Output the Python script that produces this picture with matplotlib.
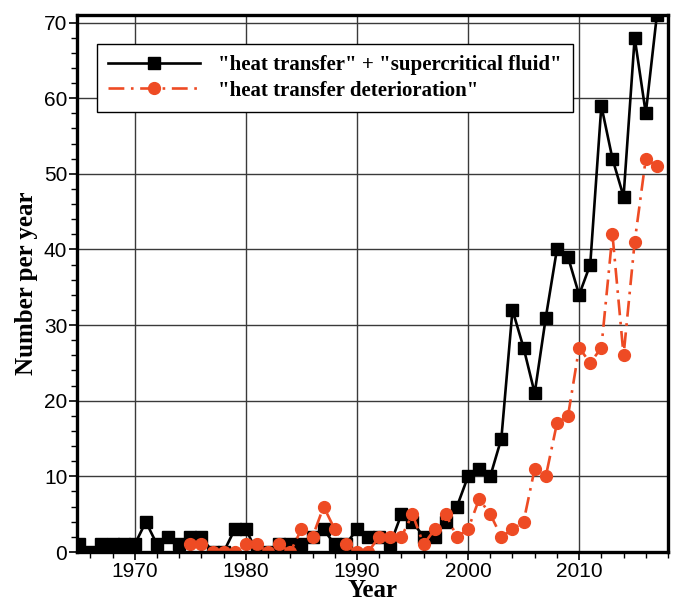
import numpy as np
import matplotlib
matplotlib.use("Agg")
import matplotlib.pyplot as plt
from matplotlib.ticker import MultipleLocator

# Publications per year
years_all = list(range(1965, 2018))
n_supercritical = [1, 0, 1, 1, 1, 1, 4, 1, 2, 1,
                   2, 2, 0, 0, 3, 3, 0, 0, 1, 1,
                   1, 2, 3, 1, 1, 3, 2, 2, 1, 5,
                   4, 2, 2, 4, 6, 10, 11, 10, 15, 32,
                   27, 21, 31, 40, 39, 34, 38, 59, 52, 47,
                   68, 58, 71]

years_htd = list(range(1975, 2018))
n_deterioration = [1, 1, 0, 0, 0, 1, 1, 0, 1, 0,
                   3, 2, 6, 3, 1, 0, 0, 2, 2, 2,
                   5, 1, 3, 5, 2, 3, 7, 5, 2, 3,
                   4, 11, 10, 17, 18, 27, 25, 27, 42, 26,
                   41, 52, 51]

label_sc = '"heat transfer" + "supercritical fluid"'
label_htd = '"heat transfer deterioration"'

red = '#EE4B24'

fig = plt.figure(figsize=(6.78, 6.02), dpi=100)
ax = fig.add_axes([77 / 678, 50 / 602, 591 / 678, 537 / 602])

ax.plot(years_all, n_supercritical, color='black', lw=1.9, marker='s',
        markersize=9, label=label_sc, zorder=3)
ax.plot(years_htd, n_deterioration, color=red, lw=1.9, ls=(0, (6, 2.5, 1, 2.5)),
        marker='o', markersize=8.5, label=label_htd, zorder=4)

ax.set_xlim(1964.8, 2018)
ax.set_ylim(0, 71)
ax.xaxis.set_major_locator(MultipleLocator(10))
ax.xaxis.set_minor_locator(MultipleLocator(2))
ax.yaxis.set_major_locator(MultipleLocator(10))
ax.yaxis.set_minor_locator(MultipleLocator(2))
ax.grid(True, which='major', color='#3a3a3a', lw=1.0, zorder=0)

ax.tick_params(which='both', direction='out', color='black', top=False, right=False)
ax.tick_params(which='major', length=6, width=1.2, labelsize=15, pad=1)
ax.tick_params(which='minor', length=4, width=1.0)
for lab in ax.get_xticklabels() + ax.get_yticklabels():
    lab.set_fontfamily('Liberation Sans')

for sp in ax.spines.values():
    sp.set_linewidth(2.4)
    sp.set_zorder(5)

ax.set_xlabel('Year', fontfamily='Liberation Serif', fontweight='bold', fontsize=18, labelpad=-1)
ax.set_ylabel('Number per year', fontfamily='Liberation Serif', fontweight='bold', fontsize=18, labelpad=4)

leg = ax.legend(loc='upper left', bbox_to_anchor=(20 / 591, 1 - 29 / 537), borderaxespad=0,
                prop={'family': 'Liberation Serif', 'weight': 'bold', 'size': 15},
                handlelength=4.4, handletextpad=0.85, labelspacing=0.25,
                borderpad=0.55, fancybox=False, framealpha=1, edgecolor='black')
leg.get_frame().set_linewidth(1.0)
leg.set_zorder(6)

fig.savefig('out.png', dpi=100)
